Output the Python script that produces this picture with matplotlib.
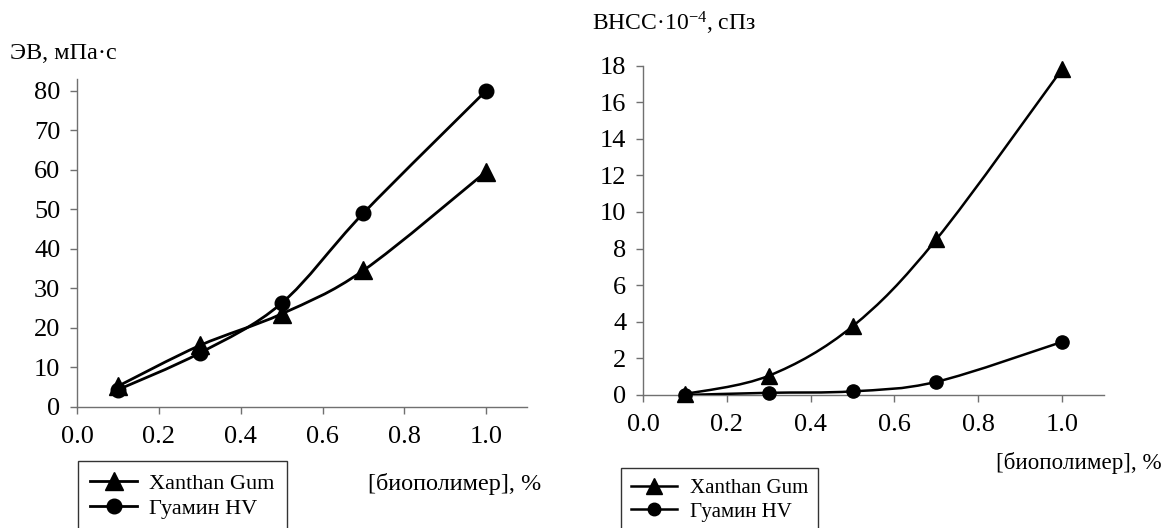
import matplotlib
matplotlib.use("Agg")
import matplotlib.pyplot as plt
from matplotlib.path import Path
from matplotlib.patches import PathPatch
from matplotlib.lines import Line2D

plt.rcParams['font.family'] = ['Liberation Serif', 'DejaVu Serif']
plt.rcParams['mathtext.fontset'] = 'custom'
plt.rcParams['mathtext.rm'] = 'Liberation Serif'
plt.rcParams['mathtext.it'] = 'Liberation Serif:italic'
plt.rcParams['mathtext.bf'] = 'Liberation Serif:bold'

# concentration of biopolymer, %
conc = [0.1, 0.3, 0.5, 0.7, 1.0]

# left chart: effective viscosity, mPa*s
ev_xanthan = [5.2, 15.5, 23.5, 34.5, 59.5]
ev_guamin = [4.3, 13.6, 26.2, 49.0, 80.0]

# right chart: LSRV * 10^-4, cP
lsrv_xanthan = [0.05, 1.05, 3.75, 8.5, 17.8]
lsrv_guamin = [0.0, 0.12, 0.2, 0.72, 2.9]

names = ['Xanthan Gum', 'Гуамин HV']
x_ticks = [0.0, 0.2, 0.4, 0.6, 0.8, 1.0]
ev_ticks = [0, 10, 20, 30, 40, 50, 60, 70, 80]
lsrv_ticks = [0, 2, 4, 6, 8, 10, 12, 14, 16, 18]


def smooth_path(xs, ys):
    # Excel-like smoothed line: cubic bezier through every point
    pts = list(zip(xs, ys))
    n = len(pts)
    verts = [pts[0]]
    codes = [Path.MOVETO]
    for i in range(n - 1):
        p0 = pts[i - 1] if i > 0 else pts[i]
        p1 = pts[i]
        p2 = pts[i + 1]
        p3 = pts[i + 2] if i + 2 < n else pts[i + 1]
        c1 = (p1[0] + (p2[0] - p0[0]) / 6, p1[1] + (p2[1] - p0[1]) / 6)
        c2 = (p2[0] - (p3[0] - p1[0]) / 6, p2[1] - (p3[1] - p1[1]) / 6)
        verts += [c1, c2, p2]
        codes += [Path.CURVE4] * 3
    return Path(verts, codes)


def style_axes(ax, xmax, ymax, yticks):
    ax.set_xlim(0, xmax)
    ax.set_ylim(0, ymax)
    ax.set_xticks(x_ticks)
    ax.set_xticklabels([f'{v:.1f}' for v in x_ticks])
    ax.set_yticks(yticks)
    for s in ['top', 'right']:
        ax.spines[s].set_visible(False)
    for s in ['left', 'bottom']:
        ax.spines[s].set_color('#707070')
        ax.spines[s].set_linewidth(1.0)
    ax.tick_params(direction='out', length=5, width=1, color='#707070',
                   labelsize=19, labelcolor='black')
    ax.tick_params(axis='y', pad=7)
    ax.tick_params(axis='x', pad=9)


fig = plt.figure(figsize=(11.64, 5.28), dpi=100)

# ---- left chart ----
ax1 = fig.add_axes([0.0662, 0.2297, 0.3866, 0.621])
style_axes(ax1, 1.1, 83, ev_ticks)
for ys, mk, ms in [(ev_xanthan, '^', 13), (ev_guamin, 'o', 10.5)]:
    ax1.add_patch(PathPatch(smooth_path(conc, ys), fill=False, color='black',
                            lw=2.0, zorder=3))
    ax1.plot(conc, ys, linestyle='none', marker=mk, ms=ms, color='black',
             zorder=4, clip_on=False)
fig.text(10 / 1164, 1 - 53.5 / 528, 'ЭВ, мПа·с', fontsize=17.5, va='center', ha='left')
fig.text(368 / 1164, 1 - 484 / 528, '[биополимер], %', fontsize=17.5, va='center', ha='left')

h1 = [Line2D([], [], color='black', lw=2.0, marker='^', ms=13),
      Line2D([], [], color='black', lw=2.0, marker='o', ms=10.5)]
leg1 = fig.legend(h1, names, loc='upper left', bbox_to_anchor=(78 / 1164, 1 - 461 / 528),
                  fontsize=16, frameon=True, fancybox=False, borderaxespad=0,
                  handlelength=2.1, handletextpad=0.55, borderpad=0.55,
                  labelspacing=0.2)
leg1.get_frame().set_edgecolor('black')
leg1.get_frame().set_linewidth(1.0)

# ---- right chart ----
ax2 = fig.add_axes([0.5524, 0.2519, 0.396, 0.624])
style_axes(ax2, 1.1, 18, lsrv_ticks)
for ys, mk, ms in [(lsrv_xanthan, '^', 12), (lsrv_guamin, 'o', 9.5)]:
    ax2.add_patch(PathPatch(smooth_path(conc, ys), fill=False, color='black',
                            lw=1.8, zorder=3))
    ax2.plot(conc, ys, linestyle='none', marker=mk, ms=ms, color='black',
             zorder=4, clip_on=False)
fig.text(592 / 1164, 1 - 23.5 / 528, 'ВНСС·10$^{\\mathregular{-4}}$, сПз', fontsize=17,
         va='center', ha='left')
fig.text(1162 / 1164, 1 - 463 / 528, '[биополимер], %', fontsize=16.6, va='center', ha='right')

h2 = [Line2D([], [], color='black', lw=1.8, marker='^', ms=11),
      Line2D([], [], color='black', lw=1.8, marker='o', ms=9)]
leg2 = fig.legend(h2, names, loc='upper left', bbox_to_anchor=(621 / 1164, 1 - 468 / 528),
                  fontsize=15, frameon=True, fancybox=False, borderaxespad=0,
                  handlelength=2.2, handletextpad=0.6, borderpad=0.5,
                  labelspacing=0.2)
leg2.get_frame().set_edgecolor('black')
leg2.get_frame().set_linewidth(1.0)

fig.savefig('out.png', dpi=100)
